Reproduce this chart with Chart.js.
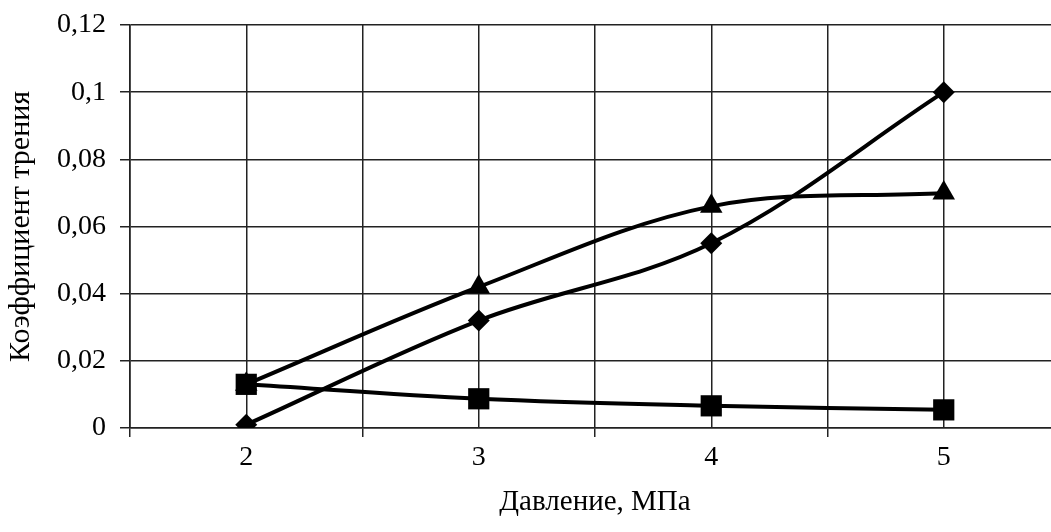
<!DOCTYPE html>
<html>
<head>
<meta charset="utf-8">
<script src="https://cdn.jsdelivr.net/npm/chart.js@4/dist/chart.umd.min.js"></script>
<style>
  html, body { margin: 0; padding: 0; background: #fff; overflow: hidden; }
</style>
</head>
<body>
<canvas id="frictionChart" width="1075" height="532"></canvas>
<script>
// Pressure, MPa
const pressures = [2, 3, 4, 5];
// Friction coefficient series
const diamondValues = [0.001, 0.032, 0.055, 0.100];
const triangleValues = [0.013, 0.042, 0.066, 0.070];
const squareValues = [0.013, 0.0087, 0.0066, 0.0054];
const yTicks = [0, 0.02, 0.04, 0.06, 0.08, 0.1, 0.12];

const gridColor = '#222';

function toPoints(values) {
  return pressures.map((p, i) => ({ x: p, y: values[i] }));
}

function makeSeries(label, values, style, radius) {
  return {
    label: label,
    data: toPoints(values),
    borderColor: '#000',
    backgroundColor: '#000',
    borderWidth: 4,
    tension: 0.35,
    pointStyle: style,
    pointRadius: radius,
    pointHoverRadius: radius,
    pointBorderWidth: 0
  };
}

const ctx = document.getElementById('frictionChart');
new Chart(ctx, {
  type: 'line',
  data: {
    datasets: [
      makeSeries('square', squareValues, 'rect', 15),
      makeSeries('diamond', diamondValues, 'rectRot', 11),
      makeSeries('triangle', triangleValues, 'triangle', 13)
    ]
  },
  options: {
    responsive: false,
    animation: false,
    layout: { padding: { top: 25, right: 13, left: 0, bottom: 0 } },
    plugins: {
      legend: { display: false },
      tooltip: { enabled: false }
    },
    scales: {
      x: {
        type: 'linear',
        min: 1.5,
        max: 5.5,
        afterFit: function(scale) {
          scale.height = 104;
          scale.paddingLeft = 0;
          scale.paddingRight = 0;
        },
        afterBuildTicks: function(scale) {
          const t = [];
          for (let v = 1.5; v <= 5.5 + 1e-9; v += 0.5) t.push({ value: v });
          scale.ticks = t;
        },
        grid: {
          color: gridColor,
          lineWidth: 1.5,
          tickLength: 9,
          tickColor: function(c) {
            return c.tick && Number.isInteger(c.tick.value) ? 'rgba(0,0,0,0)' : gridColor;
          }
        },
        border: { color: gridColor, width: 1.6 },
        ticks: {
          autoSkip: false,
          maxRotation: 0,
          color: '#000',
          padding: 4,
          font: { family: 'Liberation Serif', size: 28 },
          callback: function(v) { return Number.isInteger(v) ? String(v) : ''; }
        },
        title: {
          display: true,
          text: 'Давление, МПа',
          color: '#000',
          font: { family: 'Liberation Serif', size: 29 },
          padding: { top: 0, bottom: 12 }
        }
      },
      y: {
        min: 0,
        max: 0.12,
        afterFit: function(scale) {
          scale.width = 130;
          scale.paddingTop = 0;
          scale.paddingBottom = 0;
        },
        afterBuildTicks: function(scale) {
          scale.ticks = yTicks.map(v => ({ value: v }));
        },
        grid: {
          color: gridColor,
          lineWidth: 1.5,
          tickLength: 10
        },
        border: { color: gridColor, width: 1.6 },
        ticks: {
          color: '#000',
          padding: 14,
          font: { family: 'Liberation Serif', size: 28 },
          callback: function(v) { return String(+v.toFixed(2)).replace('.', ','); }
        },
        title: {
          display: true,
          text: 'Коэффициент трения',
          color: '#000',
          font: { family: 'Liberation Serif', size: 30 },
          padding: { top: 3, bottom: 0 }
        }
      }
    }
  }
});
</script>
</body>
</html>
